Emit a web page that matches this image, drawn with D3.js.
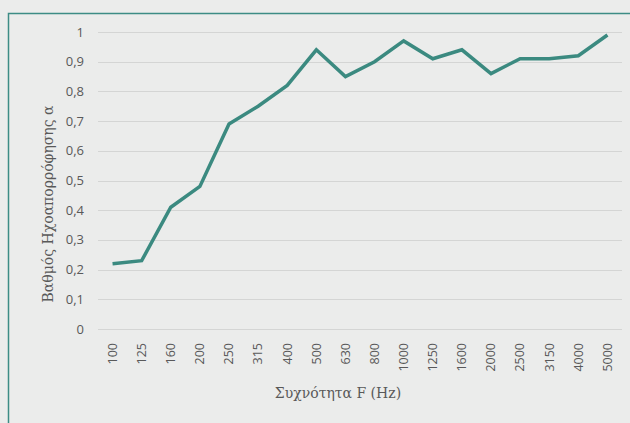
<!DOCTYPE html>
<html><head><meta charset="utf-8">
<script src="https://cdn.jsdelivr.net/npm/d3@7"></script>
<style>body{margin:0;background:#ebeceb;}svg{display:block;}</style>
</head><body>
<script>
const categories = ["100","125","160","200","250","315","400","500","630","800","1000","1250","1600","2000","2500","3150","4000","5000"];
const values = [0.22,0.23,0.41,0.48,0.69,0.75,0.82,0.94,0.85,0.90,0.97,0.91,0.94,0.86,0.91,0.91,0.92,0.99];
const yTicks = [0,0.1,0.2,0.3,0.4,0.5,0.6,0.7,0.8,0.9,1];
const xTitle = "Συχνότητα F (Hz)";
const yTitle = "Βαθμός Ηχοαπορρόφησης α";

const W = 630, H = 423;
const svg = d3.select("body").append("svg").attr("width", W).attr("height", H);
svg.append("rect").attr("width", W).attr("height", H).attr("fill", "#ebeceb");

// frame
svg.append("path").attr("d", "M8.5,423 V13.5 H630").attr("fill", "none")
  .attr("stroke", "#3d8c85").attr("stroke-width", 1.5);

const x = d3.scaleBand().domain(categories).range([98, 622]);
const y = d3.scaleLinear().domain([0, 1]).range([329, 32]);

// gridlines
svg.append("g").selectAll("line").data(yTicks).join("line")
  .attr("x1", 98).attr("x2", 622)
  .attr("y1", d => Math.round(y(d)) + 0.5).attr("y2", d => Math.round(y(d)) + 0.5)
  .attr("stroke", "#d4d5d4").attr("stroke-width", 1);

// y tick labels
svg.append("g").selectAll("text").data(yTicks).join("text")
  .attr("x", 84).attr("y", d => y(d)).attr("dy", "0.35em")
  .attr("text-anchor", "end")
  .attr("font-family", "Open Sans, sans-serif").attr("font-size", 13)
  .attr("fill", "#595959")
  .text(d => d3.format(".1~f")(d).replace(".", ","));

// x tick labels
svg.append("g").selectAll("text").data(categories).join("text")
  .attr("transform", d => `translate(${x(d) + x.bandwidth()/2},343) rotate(-90)`)
  .attr("text-anchor", "end").attr("dy", "0.35em")
  .attr("font-family", "Open Sans, sans-serif").attr("font-size", 12.5)
  .attr("fill", "#595959")
  .text(d => d);

// line
const line = d3.line()
  .x((d, i) => x(categories[i]) + x.bandwidth()/2)
  .y(d => y(d));
svg.append("path").datum(values).attr("d", line)
  .attr("fill", "none").attr("stroke", "#3b8a80").attr("stroke-width", 3.5)
  .attr("stroke-linejoin", "miter");

// axis titles
svg.append("text").attr("x", 338).attr("y", 398).attr("text-anchor", "middle")
  .attr("font-family", "DejaVu Serif, serif").attr("font-size", 14)
  .attr("fill", "#595959").text(xTitle);
svg.append("text").attr("transform", "translate(53,204) rotate(-90)")
  .attr("text-anchor", "middle")
  .attr("font-family", "DejaVu Serif, serif").attr("font-size", 14)
  .attr("fill", "#595959").text(yTitle);
</script>
</body></html>
